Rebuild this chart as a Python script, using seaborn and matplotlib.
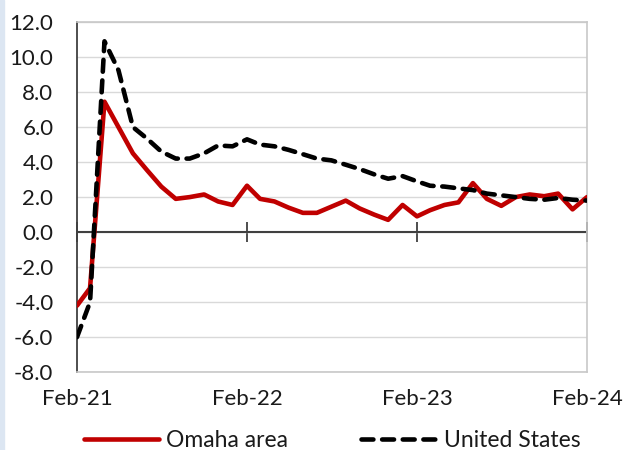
import matplotlib
matplotlib.use("Agg")
import matplotlib.pyplot as plt
import numpy as np
import pandas as pd
import seaborn as sb

# Monthly values, Feb-21 .. Feb-24
months = pd.date_range("2021-02-01", "2024-02-01", freq="MS")

omaha = [-4.2, -3.2, 7.45, 6.0, 4.5, 3.55, 2.6, 1.9, 2.0, 2.15, 1.75, 1.55,
         2.65, 1.9, 1.75, 1.4, 1.1, 1.1, 1.45, 1.8, 1.35, 1.0, 0.7, 1.55,
         0.9, 1.25, 1.55, 1.7, 2.8, 1.9, 1.5, 2.0, 2.15, 2.05, 2.2, 1.3,
         2.0]

us = [-6.0, -4.0, 10.9, 9.25, 6.0, 5.35, 4.6, 4.2, 4.2, 4.5, 4.95, 4.9,
      5.3, 5.0, 4.9, 4.7, 4.45, 4.2, 4.1, 3.85, 3.6, 3.3, 3.05, 3.2,
      2.9, 2.65, 2.6, 2.5, 2.4, 2.2, 2.1, 2.0, 1.9, 1.85, 1.95, 1.85,
      1.8]

tick_dates = pd.to_datetime(["2021-02-01", "2022-02-01", "2023-02-01", "2024-02-01"])
tick_labels = ["Feb-21", "Feb-22", "Feb-23", "Feb-24"]
y_ticks = np.arange(-8, 13, 2)

df = pd.DataFrame({"month": months, "Omaha area": omaha, "United States": us})

sb.set_style("white")
plt.rcParams["font.family"] = ["Lato", "DejaVu Sans"]

fig = plt.figure(figsize=(6.24, 4.5), dpi=100)
ax = fig.add_axes([0.1234, 0.173, 0.8173, 0.778])

# light blue strip on the left edge of the picture
fig.patches.append(plt.Rectangle((0, 0), 0.007, 1, transform=fig.transFigure,
                                 color="#dce6f2", zorder=0))

sb.lineplot(data=df, x="month", y="Omaha area", ax=ax, color="#c00000",
            linewidth=3.3, label="Omaha area", zorder=3)
sb.lineplot(data=df, x="month", y="United States", ax=ax, color="black",
            linewidth=3.3, label="United States", zorder=4)
ax.lines[1].set_dashes((2.6, 1.9))
ax.lines[1].set_dash_capstyle("round")

ax.set_xlim(months[0], months[-1])
ax.set_ylim(-8, 12)
ax.set_yticks(y_ticks)
ax.set_yticklabels([f"{v:.1f}" for v in y_ticks])
ax.yaxis.grid(True, color="#d9d9d9", linewidth=1)
ax.set_axisbelow(True)
ax.tick_params(axis="y", length=0, labelsize=16, pad=17, labelcolor="#1a1a1a")

ax.set_xticks(tick_dates)
ax.set_xticklabels(tick_labels)
ax.tick_params(axis="x", length=0, labelsize=16, pad=12, labelcolor="#1a1a1a")
ax.set_xlabel("")
ax.set_ylabel("")

for side in ["top", "right", "bottom"]:
    ax.spines[side].set_color("#c8c8c8")
    ax.spines[side].set_linewidth(1.2)
ax.spines["left"].set_color("#404040")
ax.spines["left"].set_linewidth(1.3)

# zero line with tick marks crossing it
ax.axhline(0, color="#404040", linewidth=1.5, zorder=2)
sec = ax.secondary_xaxis(8 / 20)
sec.set_xticks(tick_dates)
sec.set_xticklabels([])
sec.spines["bottom"].set_visible(False)
sec.spines["top"].set_visible(False)
sec.tick_params(direction="inout", length=14, width=1.3, color="#404040")

leg = ax.legend(loc="center", bbox_to_anchor=(0.5, -0.195), ncol=2,
                frameon=False, fontsize=16.5, handlelength=3.3, columnspacing=3.2,
                handletextpad=0.3, labelcolor="#1a1a1a")

fig.savefig("out.png", dpi=100)
